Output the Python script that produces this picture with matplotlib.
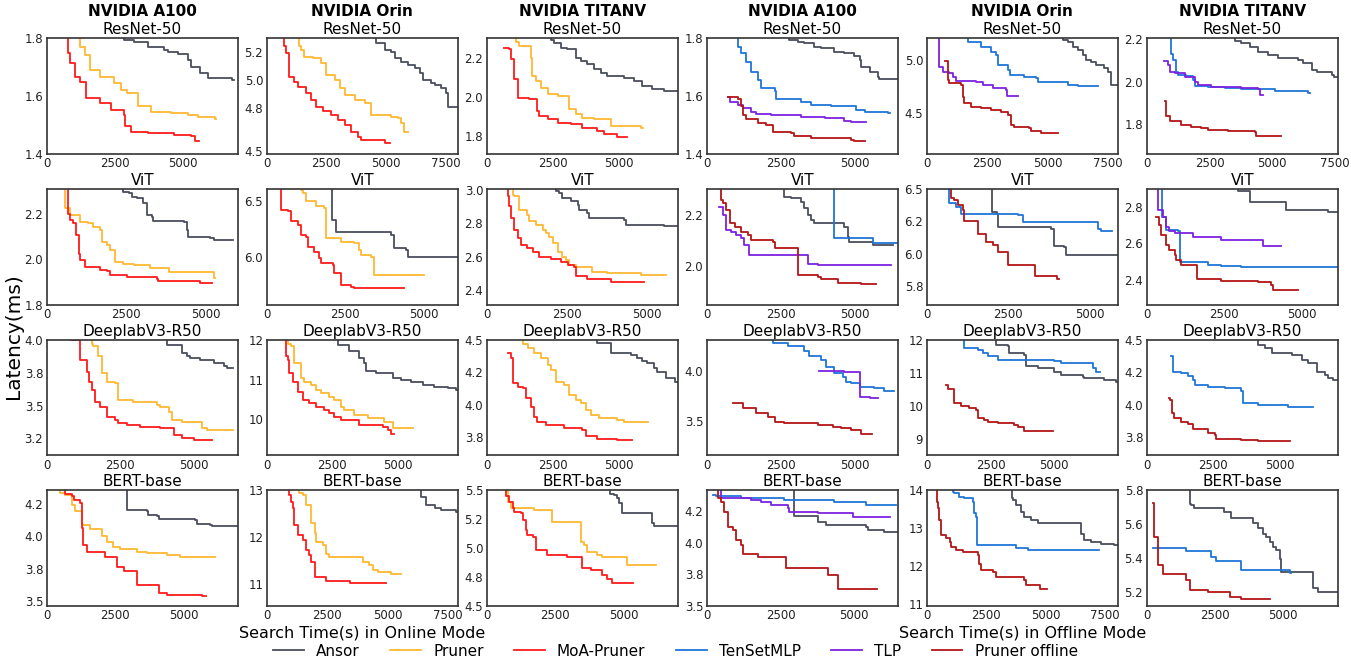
import matplotlib
matplotlib.use("Agg")
import matplotlib.pyplot as plt
from matplotlib.ticker import FormatStrFormatter

SERIES = ["Ansor", "Pruner", "MoA-Pruner", "TenSetMLP", "TLP", "Pruner offline"]
COLORS = {
    "Ansor": "#4a4d5c",
    "Pruner": "#ffb833",
    "MoA-Pruner": "#ff1a1a",
    "TenSetMLP": "#1f75d8",
    "TLP": "#7d22e0",
    "Pruner offline": "#b51515",
}
DEVICES = ["NVIDIA A100", "NVIDIA Orin", "NVIDIA TITANV"] * 2
MODELS = ["ResNet-50", "ViT", "DeeplabV3-R50", "BERT-base"]

# each curve: (search time in s, best latency in ms), drawn as post steps

# ---- ResNet-50 ----
A100_RESNET_ON = {
    "Ansor": ([2830, 2830, 3200, 3700, 4310, 4430, 4800, 5170, 5300, 5610, 5910, 6780, 6870],
              [1.85, 1.794, 1.786, 1.771, 1.76, 1.752, 1.745, 1.725, 1.699, 1.681, 1.662, 1.656, 1.656]),
    "Pruner": ([1230, 1230, 1420, 1600, 1970, 2460, 2710, 2960, 3330, 3820, 4560, 5170, 5540, 6160, 6220],
               [1.85, 1.77, 1.742, 1.69, 1.667, 1.644, 1.621, 1.61, 1.564, 1.546, 1.54, 1.535, 1.529, 1.521, 1.521]),
    "MoA-Pruner": ([780, 780, 860, 1050, 1230, 1450, 1970, 2340, 2830, 2860, 3080, 3700, 4680, 5300, 5420, 5570],
                   [1.85, 1.75, 1.714, 1.667, 1.65, 1.593, 1.575, 1.552, 1.535, 1.497, 1.477, 1.471, 1.466, 1.46, 1.443, 1.443]),
}
ORIN_RESNET_ON = {
    "Ansor": ([4560, 4560, 4940, 5220, 5360, 5640, 5920, 6200, 6410, 6550, 6900, 7040, 7320, 7530, 7600, 7950],
              [5.36, 5.259, 5.212, 5.2, 5.153, 5.13, 5.106, 5.082, 5.047, 5.0, 4.977, 4.965, 4.941, 4.906, 4.812, 4.812]),
    "Pruner": ([1340, 1340, 1440, 1580, 1930, 2280, 2490, 2840, 3050, 3260, 3680, 4100, 4380, 5220, 5500, 5640, 5740, 5920],
               [5.36, 5.24, 5.212, 5.165, 5.153, 5.118, 5.035, 5.0, 4.941, 4.894, 4.859, 4.835, 4.753, 4.741, 4.728, 4.694, 4.635, 4.635]),
    "MoA-Pruner": ([710, 710, 810, 950, 1160, 1300, 1650, 1860, 2070, 2350, 2700, 2980, 3260, 3540, 3820, 3960, 4940, 5150],
                   [5.36, 5.24, 5.188, 5.024, 4.988, 4.948, 4.906, 4.859, 4.812, 4.777, 4.752, 4.718, 4.682, 4.635, 4.6, 4.577, 4.553, 4.553]),
}
TITANV_RESNET_ON = {
    "Ansor": ([2420, 2420, 2550, 2800, 3050, 3370, 3550, 3810, 4060, 4310, 4560, 5190, 5560, 5880, 6260, 6690, 7220],
              [2.35, 2.29, 2.277, 2.252, 2.243, 2.201, 2.184, 2.167, 2.141, 2.124, 2.107, 2.099, 2.082, 2.056, 2.039, 2.031, 2.031]),
    "Pruner": ([1100, 1100, 1230, 1670, 1730, 1860, 2050, 2300, 2680, 3120, 3370, 3620, 4060, 4690, 5820, 5920],
               [2.35, 2.28, 2.26, 2.2, 2.107, 2.082, 2.048, 2.014, 2.005, 1.937, 1.911, 1.894, 1.886, 1.852, 1.843, 1.843]),
    "MoA-Pruner": ([670, 850, 920, 1040, 1170, 1610, 1920, 1980, 2300, 2680, 3180, 3620, 4180, 4430, 4940, 5310],
                   [2.252, 2.243, 2.192, 2.09, 1.997, 1.988, 1.929, 1.903, 1.886, 1.869, 1.86, 1.843, 1.826, 1.809, 1.797, 1.797]),
}
A100_RESNET_OFF = {
    "Ansor": ([2790, 2790, 3070, 3300, 3640, 3860, 4310, 4650, 4990, 5160, 5210, 5500, 5780, 5830, 6450],
              [1.85, 1.794, 1.788, 1.782, 1.771, 1.765, 1.754, 1.748, 1.739, 1.725, 1.702, 1.685, 1.667, 1.659, 1.659]),
    "TenSetMLP": ([1050, 1050, 1160, 1330, 1500, 1720, 1840, 2290, 2340, 3190, 3520, 4200, 5050, 5330, 6110, 6200],
                  [1.85, 1.77, 1.748, 1.719, 1.685, 1.656, 1.627, 1.616, 1.589, 1.581, 1.569, 1.564, 1.552, 1.546, 1.543, 1.543]),
    "TLP": ([710, 770, 1050, 1220, 1500, 1670, 2170, 3190, 3980, 4650, 4880, 5380],
            [1.596, 1.581, 1.57, 1.558, 1.546, 1.538, 1.535, 1.529, 1.524, 1.515, 1.511, 1.511]),
    "Pruner offline": ([730, 1050, 1160, 1220, 1330, 1720, 2000, 2230, 2850, 2960, 3520, 4880, 4990, 5360],
                       [1.598, 1.589, 1.564, 1.535, 1.521, 1.506, 1.5, 1.477, 1.471, 1.46, 1.454, 1.448, 1.443, 1.443]),
}
ORIN_RESNET_OFF = {
    "Ansor": ([5630, 5630, 5840, 6050, 6260, 6460, 6600, 6810, 7020, 7360, 7500, 7640, 7910],
              [5.3, 5.19, 5.174, 5.127, 5.095, 5.047, 5.0, 4.984, 4.953, 4.921, 4.889, 4.763, 4.763]),
    "TenSetMLP": ([1730, 1730, 2250, 2670, 2870, 2940, 3360, 3430, 4050, 4530, 4600, 5840, 6260, 7110],
                  [5.3, 5.174, 5.127, 5.079, 5.047, 4.953, 4.905, 4.858, 4.842, 4.826, 4.794, 4.763, 4.753, 4.753]),
    "TLP": ([500, 500, 660, 940, 1080, 1220, 2040, 2320, 2730, 3290, 3330, 3770],
            [5.3, 4.937, 4.889, 4.873, 4.842, 4.804, 4.794, 4.763, 4.731, 4.715, 4.658, 4.658]),
    "Pruner offline": ([760, 870, 940, 1420, 1490, 1560, 1840, 2250, 2670, 3080, 3360, 3490, 3630, 4250, 4320, 4740, 5430],
                       [4.99, 4.81, 4.785, 4.763, 4.652, 4.589, 4.557, 4.541, 4.525, 4.51, 4.478, 4.383, 4.367, 4.351, 4.32, 4.304, 4.304]),
}
TITANV_RESNET_OFF = {
    "Ansor": ([3510, 3510, 3770, 4110, 4440, 4840, 5240, 6040, 6240, 6570, 6770, 7370, 7450, 7610],
              [2.25, 2.19, 2.181, 2.165, 2.142, 2.126, 2.11, 2.102, 2.087, 2.055, 2.047, 2.031, 2.024, 2.024]),
    "TenSetMLP": ([950, 950, 1040, 1170, 1240, 1570, 1840, 1910, 2440, 3110, 3770, 5110, 6440, 6510],
                  [2.25, 2.13, 2.102, 2.047, 2.031, 2.025, 2.008, 1.98, 1.976, 1.969, 1.964, 1.957, 1.948, 1.948]),
    "TLP": ([680, 840, 910, 1110, 1510, 1910, 2040, 2570, 3770, 4440, 4510, 4640],
            [2.099, 2.079, 2.047, 2.039, 2.024, 2.0, 1.984, 1.976, 1.969, 1.964, 1.937, 1.937]),
    "Pruner offline": ([730, 770, 910, 1370, 1770, 2170, 2440, 3240, 4310, 4370, 5370],
                       [1.906, 1.835, 1.811, 1.795, 1.787, 1.78, 1.772, 1.764, 1.759, 1.743, 1.743]),
}

# ---- ViT ----
A100_VIT_ON = {
    "Ansor": ([2410, 2410, 2570, 2670, 2830, 3040, 3140, 3300, 3350, 4300, 4400, 4450, 5140, 5240, 5840],
              [2.4, 2.295, 2.291, 2.276, 2.269, 2.246, 2.195, 2.187, 2.17, 2.165, 2.128, 2.099, 2.092, 2.084, 2.084]),
    "Pruner": ([580, 580, 730, 1050, 1310, 1470, 1680, 1730, 1890, 1990, 2150, 2410, 2730, 3250, 3830, 5240, 5290],
               [2.4, 2.224, 2.195, 2.165, 2.158, 2.143, 2.128, 2.077, 2.062, 2.04, 1.988, 1.981, 1.973, 1.959, 1.942, 1.915, 1.915]),
    "MoA-Pruner": ([680, 680, 730, 840, 920, 1000, 1050, 1210, 1680, 1890, 1990, 2520, 3460, 3510, 4800, 5190],
                   [2.4, 2.2, 2.173, 2.158, 2.106, 2.025, 1.996, 1.966, 1.954, 1.948, 1.929, 1.922, 1.914, 1.904, 1.897, 1.897]),
}
ORIN_VIT_ON = {
    "Ansor": ([2080, 2080, 2210, 3960, 4070, 4440, 4490, 6085],
              [6.7, 6.333, 6.227, 6.197, 6.076, 6.061, 6.0, 6.0]),
    "Pruner": ([1090, 1090, 1150, 1250, 1570, 1840, 1890, 2370, 2790, 2950, 3010, 3320, 3430, 5000],
               [6.7, 6.6, 6.576, 6.5, 6.455, 6.439, 6.167, 6.136, 6.121, 6.061, 6.015, 6.0, 5.833, 5.833]),
    "MoA-Pruner": ([460, 460, 670, 780, 990, 1090, 1250, 1310, 1520, 1680, 1730, 2100, 2160, 2370, 2690, 2790, 4390],
                   [6.7, 6.424, 6.409, 6.318, 6.288, 6.197, 6.182, 6.091, 6.045, 5.985, 5.939, 5.924, 5.848, 5.742, 5.727, 5.712, 5.712]),
}
TITANV_VIT_ON = {
    "Ansor": ([2150, 2150, 2260, 2360, 2620, 2830, 2880, 3140, 3190, 4280, 4350, 5520, 5950],
              [3.1, 2.99, 2.98, 2.95, 2.93, 2.91, 2.88, 2.86, 2.83, 2.82, 2.79, 2.78, 2.78]),
    "Pruner": ([810, 810, 860, 1010, 1270, 1330, 1530, 1740, 1840, 1950, 2050, 2210, 2360, 2460, 2570, 2770, 3290, 3760, 4800, 5570],
               [3.1, 2.97, 2.96, 2.88, 2.85, 2.81, 2.79, 2.76, 2.74, 2.72, 2.68, 2.63, 2.6, 2.58, 2.55, 2.54, 2.51, 2.5, 2.492, 2.492]),
    "MoA-Pruner": ([650, 650, 700, 760, 860, 960, 1070, 1270, 1430, 1640, 2000, 2310, 2520, 2720, 2770, 3140, 3860, 4900],
                   [3.1, 2.96, 2.9, 2.83, 2.76, 2.71, 2.67, 2.65, 2.63, 2.6, 2.584, 2.57, 2.55, 2.54, 2.484, 2.464, 2.446, 2.446]),
}
A100_VIT_OFF = {
    "Ansor": ([2620, 2620, 2850, 3190, 3300, 3410, 3520, 3640, 4650, 4760, 4820, 5610, 6280],
              [2.4, 2.27, 2.265, 2.252, 2.226, 2.2, 2.18, 2.167, 2.154, 2.115, 2.095, 2.082, 2.082]),
    "TenSetMLP": ([4290, 4290, 5610, 6450],
                  [2.4, 2.108, 2.092, 2.092]),
    "TLP": ([430, 540, 650, 820, 990, 1160, 1270, 1440, 3410, 3750, 6230],
            [2.23, 2.2, 2.141, 2.135, 2.122, 2.108, 2.082, 2.043, 2.01, 2.004, 2.004]),
    "Pruner offline": ([480, 480, 540, 650, 770, 940, 1160, 1390, 1500, 2230, 2290, 3070, 3750, 3860, 4430, 5210, 5720],
                       [2.4, 2.26, 2.246, 2.22, 2.167, 2.154, 2.135, 2.122, 2.102, 2.095, 2.069, 1.965, 1.958, 1.948, 1.935, 1.929, 1.929]),
}
ORIN_VIT_OFF = {
    "Ansor": ([2010, 2010, 2160, 2180, 3820, 3900, 4230, 4290, 5870],
              [6.6, 6.322, 6.309, 6.206, 6.193, 6.057, 6.05, 5.987, 5.987]),
    "TenSetMLP": ([700, 700, 900, 1060, 2800, 2950, 5260, 5360, 5690],
                  [6.6, 6.392, 6.361, 6.309, 6.296, 6.245, 6.193, 6.175, 6.175]),
    "Pruner offline": ([750, 750, 850, 950, 1110, 1160, 1590, 1830, 2030, 2180, 2490, 3330, 4000, 4080],
                       [6.6, 6.43, 6.412, 6.374, 6.335, 6.25, 6.155, 6.09, 6.064, 6.013, 5.91, 5.825, 5.8, 5.8]),
}
TITANV_VIT_OFF = {
    "Ansor": ([2950, 2950, 3330, 4510, 5860, 6170],
              [3.0, 2.886, 2.83, 2.784, 2.771, 2.771]),
    "TenSetMLP": ([490, 490, 630, 1000, 1090, 1980, 2410, 3060, 6170],
                  [3.0, 2.747, 2.674, 2.665, 2.499, 2.48, 2.475, 2.471, 2.471]),
    "TLP": ([360, 360, 520, 630, 730, 900, 1490, 2410, 3760, 4350],
            [3.0, 2.784, 2.747, 2.692, 2.665, 2.655, 2.633, 2.618, 2.587, 2.587]),
    "Pruner offline": ([300, 410, 460, 630, 730, 900, 950, 1110, 1630, 2410, 3600, 4030, 4080, 4890],
                       [2.744, 2.701, 2.646, 2.591, 2.563, 2.535, 2.508, 2.48, 2.406, 2.394, 2.388, 2.37, 2.342, 2.342]),
}

# ---- DeeplabV3-R50 ----
A100_DEEPLAB_ON = {
    "Ansor": ([4090, 4090, 4600, 4770, 4890, 5230, 5680, 6020, 6130, 6340],
              [4.1, 3.962, 3.898, 3.873, 3.86, 3.847, 3.822, 3.797, 3.784, 3.784]),
    "Pruner": ([1530, 1530, 1590, 1760, 1870, 2050, 2330, 2440, 2950, 3750, 3860, 4150, 4260, 4600, 5280, 5450, 6340],
               [4.1, 3.97, 3.949, 3.873, 3.746, 3.682, 3.669, 3.542, 3.53, 3.504, 3.491, 3.453, 3.39, 3.377, 3.326, 3.313, 3.313]),
    "MoA-Pruner": ([800, 800, 1140, 1360, 1450, 1530, 1650, 1820, 2050, 2330, 2440, 2730, 3180, 3860, 4320, 4600, 5000, 5620],
                   [4.1, 3.996, 3.847, 3.758, 3.682, 3.619, 3.53, 3.491, 3.415, 3.39, 3.364, 3.351, 3.339, 3.326, 3.275, 3.25, 3.24, 3.24]),
}
ORIN_DEEPLAB_ON = {
    "Ansor": ([2710, 2710, 3160, 3540, 3730, 3790, 4170, 4810, 5130, 5510, 5950, 6400, 6910, 7230, 7290],
              [12.5, 11.874, 11.706, 11.538, 11.412, 11.202, 11.16, 11.034, 10.992, 10.95, 10.866, 10.824, 10.782, 10.74, 10.74]),
    "Pruner": ([800, 800, 930, 1060, 1310, 1440, 1690, 1880, 2070, 2390, 2580, 2840, 2960, 3350, 3850, 4490, 4810, 5570],
               [12.5, 11.9, 11.832, 11.412, 11.034, 10.95, 10.866, 10.739, 10.655, 10.571, 10.487, 10.319, 10.235, 10.109, 10.025, 9.941, 9.773, 9.773]),
    "MoA-Pruner": ([740, 740, 800, 860, 990, 1180, 1370, 1630, 1880, 2200, 2390, 2580, 2840, 3540, 4430, 4620, 4750, 4870],
                   [12.5, 11.6, 11.496, 11.16, 10.95, 10.697, 10.487, 10.403, 10.319, 10.235, 10.151, 10.067, 9.983, 9.857, 9.815, 9.731, 9.63, 9.63]),
}
TITANV_DEEPLAB_ON = {
    "Ansor": ([4180, 4180, 4690, 5440, 5690, 5880, 6070, 6320, 6440, 6760, 7100, 7220],
              [4.6, 4.474, 4.397, 4.384, 4.359, 4.333, 4.32, 4.282, 4.256, 4.205, 4.179, 4.179]),
    "Pruner": ([1360, 1360, 1550, 1800, 2050, 2300, 2420, 2610, 2930, 3120, 3370, 3550, 3740, 3930, 4250, 4940, 5190, 6090],
               [4.6, 4.47, 4.436, 4.397, 4.359, 4.307, 4.269, 4.179, 4.153, 4.076, 4.038, 4.013, 3.961, 3.922, 3.897, 3.884, 3.871, 3.871]),
    "MoA-Pruner": ([820, 920, 980, 1170, 1360, 1480, 1670, 1800, 1920, 2240, 2930, 3620, 3740, 4180, 4940, 5500],
                   [4.397, 4.359, 4.166, 4.14, 4.128, 4.051, 3.986, 3.909, 3.871, 3.845, 3.82, 3.807, 3.76, 3.742, 3.73, 3.73]),
}
A100_DEEPLAB_OFF = {
    "TenSetMLP": ([2230, 2230, 2740, 3300, 3470, 3860, 4030, 4310, 4590, 4710, 4880, 5160, 5660, 6000, 6320],
                  [4.4, 4.273, 4.24, 4.19, 4.14, 4.107, 4.04, 3.973, 3.94, 3.89, 3.873, 3.84, 3.823, 3.8, 3.8]),
    "TLP": ([3780, 4650, 5170, 5500, 5800],
            [3.997, 3.983, 3.733, 3.723, 3.723]),
    "Pruner offline": ([880, 1220, 1670, 2060, 2290, 2620, 3750, 4260, 4540, 4880, 5210, 5570],
                       [3.68, 3.623, 3.573, 3.54, 3.483, 3.473, 3.457, 3.44, 3.423, 3.407, 3.373, 3.373]),
}
ORIN_DEEPLAB_OFF = {
    "Ansor": ([2710, 2710, 3170, 3240, 3820, 3890, 4350, 5000, 5260, 6110, 6170, 6960, 7410, 7480],
              [12.5, 11.849, 11.799, 11.597, 11.547, 11.194, 11.144, 11.043, 10.943, 10.892, 10.842, 10.792, 10.741, 10.741]),
    "TenSetMLP": ([1450, 1450, 2000, 2190, 2390, 2780, 5000, 5260, 6500, 6630, 6800],
                  [12.5, 11.75, 11.698, 11.597, 11.496, 11.396, 11.345, 11.295, 11.144, 11.043, 11.043]),
    "Pruner offline": ([760, 850, 1080, 1340, 1670, 1930, 2000, 2260, 2390, 2780, 3430, 3560, 3820, 4960],
                       [10.64, 10.51, 10.087, 10.006, 9.935, 9.885, 9.633, 9.583, 9.533, 9.482, 9.432, 9.36, 9.26, 9.26]),
}
TITANV_DEEPLAB_OFF = {
    "Ansor": ([4180, 4180, 4430, 4690, 5440, 5820, 6070, 6380, 6690, 6820, 7010, 7170],
              [4.6, 4.46, 4.436, 4.397, 4.384, 4.346, 4.32, 4.256, 4.23, 4.205, 4.192, 4.192]),
    "TenSetMLP": ([920, 980, 1290, 1550, 1730, 1800, 2300, 2930, 3550, 3620, 4180, 5310, 6260],
                  [4.377, 4.256, 4.243, 4.218, 4.192, 4.153, 4.14, 4.128, 4.11, 4.012, 3.999, 3.981, 3.981]),
    "Pruner offline": ([820, 890, 940, 1020, 1290, 1550, 1730, 2300, 2550, 2610, 3550, 4180, 5380],
                       [4.051, 4.038, 3.935, 3.897, 3.871, 3.853, 3.812, 3.781, 3.768, 3.742, 3.73, 3.722, 3.722]),
}

# ---- BERT-base ----
A100_BERT_ON = {
    "Ansor": ([2930, 2930, 3660, 3720, 4030, 4090, 5430, 5490, 5980, 6040, 6980],
              [4.5, 4.208, 4.2, 4.164, 4.16, 4.135, 4.13, 4.096, 4.09, 4.083, 4.083]),
    "Pruner": ([490, 490, 670, 920, 1040, 1280, 1590, 2010, 2200, 2440, 2680, 3290, 3660, 4390, 4880, 6160],
               [4.5, 4.34, 4.325, 4.247, 4.2, 4.091, 4.057, 4.0, 3.961, 3.922, 3.904, 3.878, 3.87, 3.857, 3.844, 3.844]),
    "MoA-Pruner": ([670, 670, 920, 980, 1200, 1280, 1340, 1460, 2140, 2560, 2810, 3290, 4090, 4390, 5670, 5820],
                   [4.5, 4.33, 4.317, 4.286, 4.26, 4.065, 3.935, 3.883, 3.844, 3.766, 3.732, 3.622, 3.565, 3.544, 3.54, 3.54]),
}
ORIN_BERT_ON = {
    "Ansor": ([6370, 6370, 6600, 6950, 7220, 7840, 7910],
              [13.5, 12.864, 12.685, 12.627, 12.577, 12.527, 12.527]),
    "Pruner": ([1350, 1350, 1490, 1630, 1840, 1980, 2040, 2320, 2460, 2600, 3980, 4250, 4390, 4600, 5150, 5570],
               [13.5, 12.95, 12.9, 12.685, 12.29, 12.075, 11.896, 11.824, 11.645, 11.573, 11.466, 11.394, 11.287, 11.251, 11.2, 11.2]),
    "MoA-Pruner": ([940, 940, 1010, 1080, 1150, 1280, 1490, 1630, 1770, 1840, 1980, 2460, 3430, 4940],
                   [13.5, 12.9, 12.756, 12.613, 12.254, 12.039, 11.932, 11.717, 11.609, 11.466, 11.143, 11.05, 11.022, 11.022]),
}
TITANV_BERT_ON = {
    "Ansor": ([4500, 4500, 4650, 4770, 4830, 4950, 6050, 6110, 6980],
              [5.6, 5.47, 5.46, 5.431, 5.387, 5.301, 5.214, 5.194, 5.194]),
    "Pruner": ([770, 770, 890, 1740, 2400, 3440, 3560, 3680, 4040, 4230, 5140, 6170],
               [5.6, 5.4, 5.344, 5.329, 5.228, 5.055, 5.026, 4.968, 4.939, 4.925, 4.858, 4.858]),
    "MoA-Pruner": ([700, 700, 830, 950, 1010, 1250, 1310, 1430, 1490, 1680, 1800, 2220, 2950, 3500, 3800, 4230, 4410, 4590, 5350],
                   [5.6, 5.45, 5.402, 5.344, 5.315, 5.301, 5.243, 5.156, 5.113, 5.098, 4.983, 4.939, 4.925, 4.83, 4.809, 4.766, 4.737, 4.694, 4.694]),
}
A100_BERT_OFF = {
    "Ansor": ([2970, 2970, 3760, 4040, 5400, 5450, 6000, 6470],
              [4.5, 4.213, 4.165, 4.139, 4.126, 4.099, 4.085, 4.085]),
    "TenSetMLP": ([200, 320, 1160, 2630, 4320, 5400, 6410],
                  [4.377, 4.371, 4.356, 4.337, 4.319, 4.297, 4.297]),
    "TLP": ([490, 490, 1500, 1840, 2180, 2740, 2800, 3760, 4950, 6220],
            [4.5, 4.356, 4.337, 4.324, 4.297, 4.276, 4.245, 4.239, 4.205, 4.205]),
    "Pruner offline": ([370, 370, 490, 600, 710, 880, 990, 1160, 1220, 1730, 2690, 4100, 4440, 5770],
                       [4.5, 4.35, 4.324, 4.245, 4.126, 4.099, 4.02, 3.981, 3.907, 3.888, 3.801, 3.743, 3.637, 3.637]),
}
ORIN_BERT_OFF = {
    "Ansor": ([3580, 3580, 3620, 3760, 3970, 4110, 4390, 4680, 6500, 6640, 6920, 7340, 7900, 8040],
              [14.5, 13.8, 13.743, 13.611, 13.434, 13.301, 13.212, 13.124, 12.858, 12.681, 12.637, 12.593, 12.55, 12.55]),
    "TenSetMLP": ([1100, 1100, 1170, 1380, 1590, 1940, 2010, 2080, 2120, 3760, 4250, 7270],
                  [14.5, 13.97, 13.92, 13.832, 13.788, 13.699, 13.389, 13.301, 12.549, 12.478, 12.416, 12.416]),
    "Pruner offline": ([420, 420, 460, 530, 600, 810, 960, 1030, 1240, 1520, 2150, 2220, 2290, 2780, 2920, 4110, 4180, 4750, 5050],
                       [14.5, 13.7, 13.522, 13.212, 12.814, 12.726, 12.637, 12.504, 12.416, 12.372, 12.283, 12.062, 11.885, 11.841, 11.708, 11.619, 11.487, 11.381, 11.381]),
}
TITANV_BERT_OFF = {
    "Ansor": ([1570, 1570, 1630, 1750, 2850, 3100, 3900, 4080, 4260, 4390, 4510, 4630, 4750, 4880, 4940, 6100, 6280, 7000],
              [5.9, 5.72, 5.713, 5.693, 5.674, 5.638, 5.605, 5.575, 5.545, 5.526, 5.496, 5.466, 5.447, 5.397, 5.318, 5.22, 5.2, 5.2]),
    "TenSetMLP": ([220, 1450, 2360, 2550, 3440, 5240, 5300],
                  [5.46, 5.441, 5.407, 5.382, 5.328, 5.314, 5.314]),
    "Pruner offline": ([220, 260, 400, 590, 1450, 1570, 2240, 3040, 3470, 4510],
                       [5.727, 5.526, 5.358, 5.303, 5.269, 5.21, 5.2, 5.17, 5.16, 5.16]),
}

PANELS = [
    [A100_RESNET_ON, ORIN_RESNET_ON, TITANV_RESNET_ON, A100_RESNET_OFF, ORIN_RESNET_OFF, TITANV_RESNET_OFF],
    [A100_VIT_ON, ORIN_VIT_ON, TITANV_VIT_ON, A100_VIT_OFF, ORIN_VIT_OFF, TITANV_VIT_OFF],
    [A100_DEEPLAB_ON, ORIN_DEEPLAB_ON, TITANV_DEEPLAB_ON, A100_DEEPLAB_OFF, ORIN_DEEPLAB_OFF, TITANV_DEEPLAB_OFF],
    [A100_BERT_ON, ORIN_BERT_ON, TITANV_BERT_ON, A100_BERT_OFF, ORIN_BERT_OFF, TITANV_BERT_OFF],
]

XMAX = [
    [7000, 8000, 7220, 6450, 7910, 7610],
    [6000, 6085, 5950, 6450, 5870, 6170],
    [6500, 7290, 7220, 6450, 7480, 7170],
    [6980, 7910, 6980, 6470, 8040, 7000],
]
YLIM = [
    [(1.4, 1.8), (4.478, 5.294), (1.71, 2.30), (1.4, 1.8), (4.108, 5.206), (1.658, 2.205)],
    [(1.8, 2.31), (5.567, 6.612), (2.314, 3.004), (1.85, 2.301), (5.606, 6.495), (2.263, 2.899)],
    [(3.123, 4.0), (9.1, 12.0), (3.614, 4.5), (3.157, 4.307), (8.526, 12.0), (3.614, 4.5)],
    [(3.462, 4.357), (10.52, 13.0), (4.5, 5.5), (3.5, 4.414), (10.94, 14.0), (5.117, 5.8)],
]
YTICKS = [
    [[1.4, 1.6, 1.8], [4.5, 4.8, 5.0, 5.2], [1.8, 2.0, 2.2], [1.4, 1.6, 1.8], [4.5, 5.0], [1.8, 2.0, 2.2]],
    [[1.8, 2.0, 2.2], [6.0, 6.5], [2.4, 2.6, 2.8, 3.0], [2.0, 2.2], [5.75, 6.0, 6.25, 6.5], [2.4, 2.6, 2.8]],
    [[3.25, 3.5, 3.75, 4.0], [10, 11, 12], [3.75, 4.0, 4.25, 4.5], [3.5, 4.0], [9, 10, 11, 12], [3.75, 4.0, 4.25, 4.5]],
    [[3.5, 3.75, 4.0, 4.25], [11, 12, 13], [4.5, 4.75, 5.0, 5.25, 5.5], [3.5, 3.75, 4.0, 4.25], [11, 12, 13, 14], [5.2, 5.4, 5.6, 5.8]],
]
XTICKS = [0, 2500, 5000, 7500]

W, H = 1351, 665
LEFT0, COL_STEP, AX_W = 46.7, 220.0, 191.0
TOP0, ROW_STEP, AX_H = 38.3, 150.7, 115.5


def style_axes(ax):
    for spine in ax.spines.values():
        spine.set_color("#333333")
        spine.set_linewidth(1.2)
    ax.tick_params(length=0, labelsize=8.5, pad=2.5, colors="#222222")


def draw_panel(ax, curves, xmax, ylim, yticks):
    for name in SERIES:
        if name not in curves:
            continue
        xs, ys = curves[name]
        ax.step(xs, ys, where="post", color=COLORS[name], linewidth=1.3, label=name)
    ax.set_xlim(0, xmax)
    ax.set_ylim(*ylim)
    ax.set_xticks([t for t in XTICKS if t <= xmax])
    ax.set_yticks(yticks)
    if all(float(t).is_integer() for t in yticks):
        ax.yaxis.set_major_formatter(FormatStrFormatter("%d"))
    else:
        ax.yaxis.set_major_formatter(FormatStrFormatter("%.1f"))
    style_axes(ax)


fig = plt.figure(figsize=(W / 100, H / 100), dpi=100)
handles = {}
for r in range(4):
    for c in range(6):
        left = (LEFT0 + c * COL_STEP) / W
        bottom = 1 - (TOP0 + r * ROW_STEP + AX_H) / H
        ax = fig.add_axes([left, bottom, AX_W / W, AX_H / H])
        draw_panel(ax, PANELS[r][c], XMAX[r][c], YLIM[r][c], YTICKS[r][c])
        ax.set_title(MODELS[r], fontsize=11, pad=3)
        for line in ax.get_lines():
            handles.setdefault(line.get_label(), line)

for c, dev in enumerate(DEVICES):
    cx = (LEFT0 + c * COL_STEP + AX_W / 2) / W
    fig.text(cx, 1 - 11 / H, dev, ha="center", va="center", fontsize=11, weight="bold")

fig.text(14 / W, 1 - 336 / H, "Latency(ms)", rotation=90, ha="center", va="center", fontsize=14.5)
fig.text((LEFT0 + COL_STEP + AX_W / 2) / W, 1 - 633 / H, "Search Time(s) in Online Mode",
         ha="center", va="center", fontsize=11.5)
fig.text((LEFT0 + 4 * COL_STEP + AX_W / 2) / W, 1 - 633 / H, "Search Time(s) in Offline Mode",
         ha="center", va="center", fontsize=11.5)

fig.legend([handles[s] for s in SERIES], SERIES, loc="center", bbox_to_anchor=(0.5, 1 - 651 / H),
           ncol=6, frameon=False, fontsize=11, handlelength=2.0, columnspacing=2.0)

fig.savefig("out.png", dpi=100)
